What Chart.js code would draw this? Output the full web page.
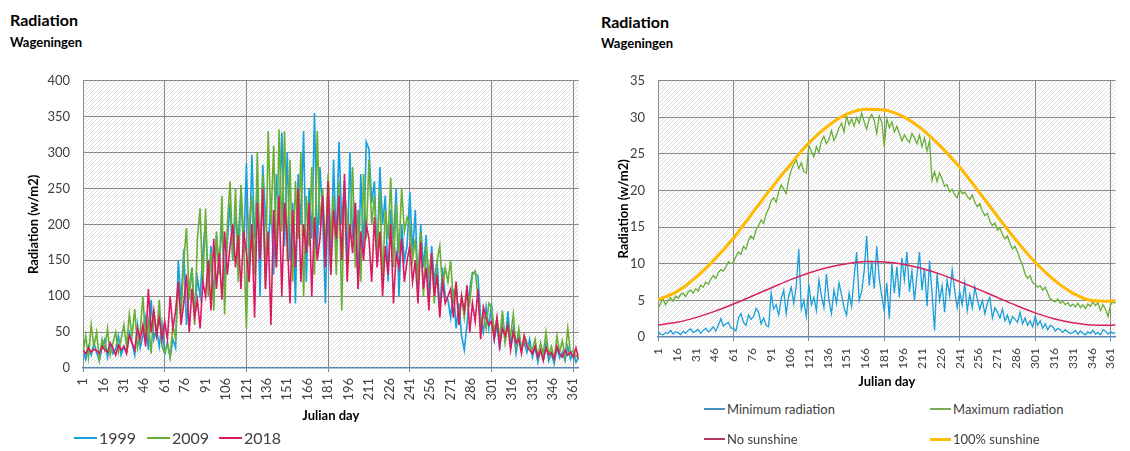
<!DOCTYPE html>
<html>
<head>
<meta charset="utf-8">
<script src="https://cdn.jsdelivr.net/npm/chart.js@4"></script>
<style>
  body { margin:0; width:1130px; height:451px; overflow:hidden; background:#fff; position:relative;
         font-family: Lato, 'Open Sans', sans-serif; color:#000; }
  .t1 { position:absolute; font-weight:bold; font-size:16px; line-height:18px; }
  .t2 { position:absolute; font-weight:bold; font-size:13px; line-height:16px; }
  canvas { position:absolute; }
  .leg { position:absolute; height:20px; line-height:20px; display:flex; align-items:center; color:#404040; white-space:nowrap; }
  .leg .ln { display:inline-block; margin-right:2px; }
</style>
</head>
<body>
<div class="t1" style="left:10px;top:11px">Radiation</div>
<div class="t2" style="left:10px;top:34px">Wageningen</div>
<div class="t1" style="left:601px;top:13px">Radiation</div>
<div class="t2" style="left:601px;top:35px">Wageningen</div>
<canvas id="left" width="595" height="370" style="left:0;top:60px"></canvas>
<canvas id="right" width="542" height="330" style="left:590px;top:60px"></canvas>
<div id="legends"></div>
<script>
// x tick labels (Julian day) and days of the noisy series (every 2nd day)
const tickDays = [1,16,31,46,61,76,91,106,121,136,151,166,181,196,211,226,241,256,271,286,301,316,331,346,361];
const smoothDays = [1,16,31,46,61,76,91,106,121,136,151,166,181,196,211,226,241,256,271,286,301,316,331,346,361,365];
const dailyDays = [];
for (let d = 1; d <= 365; d += 2) dailyDays.push(d);

// left chart: daily radiation per year (w/m2), days 1,3,...,365
const rad1999 = [
  25,12,30,18,35,22,10,28,40,15,33,20,26,45,18,
  30,22,50,35,18,60,28,45,70,25,95,40,55,30,62,
  20,35,15,40,28,150,90,165,60,110,140,75,125,100,160,
  205,110,170,95,185,140,200,120,175,230,150,210,180,245,160,
  285,140,297,180,250,100,283,210,160,240,130,270,200,328,170,
  300,150,230,90,270,200,330,120,250,180,355,160,280,210,90,
  240,130,290,170,315,200,260,140,300,180,230,110,270,160,315,
  305,230,260,150,280,200,240,120,220,180,250,100,200,150,170,
  245,160,220,110,200,140,185,90,170,120,150,80,140,100,95,
  70,110,55,90,45,25,60,110,133,132,128,70,50,85,55,
  90,40,60,25,75,35,79,30,55,20,45,28,35,22,40,
  15,30,8,25,12,35,10,20,6,28,14,22,10,30,12,
  20,8,15
];
const rad2009 = [
  20,45,15,60,30,50,12,40,25,55,18,35,50,22,40,
  60,30,75,45,82,28,50,100,35,65,20,80,45,95,30,
  20,35,15,60,40,120,70,150,195,95,140,60,180,222,110,
  222,100,160,80,190,130,240,75,200,260,150,250,120,255,180,
  55,200,240,130,300,150,270,110,330,200,310,140,332,190,330,
  150,290,120,260,180,300,100,240,170,280,130,330,200,250,160,
  270,180,240,130,260,80,250,210,180,280,140,220,120,270,180,
  290,200,240,150,250,120,220,180,265,140,230,160,250,190,210,
  200,150,180,120,190,100,170,130,160,90,150,170,110,140,120,
  150,90,120,60,100,70,110,90,130,135,100,60,75,55,90,
  85,50,70,40,80,35,60,45,75,30,55,25,45,35,30,
  25,40,15,35,20,50,18,30,12,45,22,38,15,55,20,
  25,15,20
];
const rad2018 = [
  25,20,28,22,26,24,20,30,25,22,35,28,18,32,25,
  30,20,45,35,25,55,40,60,30,110,50,80,45,70,40,
  65,40,100,55,80,120,60,90,130,50,110,70,95,55,120,
  100,150,80,180,110,160,95,190,130,170,200,140,185,110,190,
  160,120,200,70,230,150,250,110,190,60,220,140,240,100,230,
  180,90,220,140,250,120,200,160,230,100,210,150,180,240,140,
  260,130,220,180,240,150,270,120,200,160,230,110,190,150,200,
  180,120,210,140,190,100,170,130,200,90,160,140,180,120,150,
  170,120,150,90,175,110,140,80,160,100,130,70,120,90,100,
  110,70,120,60,100,80,115,50,90,65,110,40,85,70,60,
  65,40,70,30,55,45,60,25,50,35,40,20,45,30,25,
  20,30,15,25,10,28,18,22,12,30,20,15,25,18,22,
  15,28,12
];

// right chart: minimum / maximum radiation, days 1,3,...,365
const minRad = [
  0.8,0.4,0.3,0.6,0.5,0.9,0.4,0.7,0.6,0.3,0.8,0.5,0.9,1.1,0.6,
  0.8,1.0,0.5,0.9,1.2,0.7,1.0,1.4,0.8,1.6,2.5,1.5,1.8,2.0,1.2,
  1.2,0.8,2.6,3.2,2.0,1.6,3.0,2.4,2.8,3.9,3.4,1.8,2.6,1.6,1.4,
  6.0,3.8,4.4,3.0,5.2,6.4,3.2,5.6,6.8,4.6,7.0,12.0,3.8,5.0,2.8,
  7.2,4.4,5.4,3.6,7.8,5.6,4.0,8.6,5.0,3.2,6.4,4.6,7.4,5.8,4.0,
  3.0,6.0,4.2,8.2,11.6,5.0,6.2,9.0,13.8,7.0,10.4,6.6,12.4,8.0,5.6,
  3.6,7.4,2.5,10.0,6.0,9.6,5.4,10.8,7.8,11.6,6.2,9.0,5.0,8.4,11.6,
  6.4,9.4,4.2,10.4,6.0,0.9,8.6,5.0,7.0,3.4,7.8,5.6,9.2,6.4,4.0,
  6.2,4.4,7.4,3.6,5.8,4.0,6.8,5.2,3.8,5.0,3.2,4.6,5.4,2.6,4.0,
  3.4,2.6,3.8,2.2,3.0,1.8,2.8,2.4,2.0,3.4,1.8,2.6,1.6,2.2,1.4,
  2.8,1.6,2.2,1.2,1.8,1.0,1.6,1.4,0.8,1.2,1.0,0.6,1.0,0.7,0.5,
  0.6,0.9,0.4,0.8,0.5,0.3,0.7,0.5,0.9,0.4,0.6,0.3,1.0,0.8,0.4,
  0.7,0.5,0.6
];
const maxRad = [
  3.8,4.6,5.2,4.4,5.0,5.4,4.9,5.6,5.3,5.8,6.0,5.5,6.2,6.4,6.0,
  6.6,6.3,7.1,6.8,7.5,7.2,7.9,8.4,8.0,8.8,9.2,9.0,9.6,10.3,10.0,
  10.2,11.0,11.6,11.3,12.4,12.0,13.2,13.8,13.4,14.6,15.2,16.0,15.5,16.8,17.5,
  18.6,19.0,18.4,19.8,20.8,20.2,19.6,21.5,22.8,23.6,24.2,23.0,23.8,22.6,22.4,
  26.2,25.4,24.6,26.0,25.2,26.8,27.4,26.4,27.0,28.2,26.8,27.6,28.6,29.2,28.0,
  30.2,29.0,29.8,28.8,30.0,29.2,30.6,29.4,28.4,29.8,30.4,29.6,27.8,30.2,29.4,
  26.0,29.8,28.6,29.4,28.0,28.8,27.8,26.8,27.6,27.0,26.6,27.8,27.2,26.4,27.6,
  26.0,27.2,25.4,26.8,21.4,22.6,21.2,22.4,21.6,20.6,20.8,19.8,20.2,19.4,19.0,
  20.2,19.6,19.8,19.2,18.8,19.4,18.4,17.8,18.2,17.2,16.6,16.9,15.8,15.2,15.6,
  14.6,14.9,14.0,13.4,13.8,12.8,12.0,12.4,11.6,10.6,9.8,8.6,8.0,8.4,7.4,
  7.2,6.8,7.0,6.4,6.8,6.0,5.2,5.0,4.8,5.2,4.6,4.9,4.4,4.7,4.2,
  4.5,4.1,4.6,4.0,4.4,3.9,4.5,4.2,4.8,4.3,4.7,3.6,4.4,3.8,2.8,
  4.4,4.8,4.6
];
// smooth curves at smoothDays
const noSunshine = [1.65,2.0,2.65,3.5,4.5,5.6,6.7,7.8,8.75,9.5,10.0,10.3,10.25,9.95,9.35,8.55,7.55,6.5,5.4,4.3,3.3,2.5,1.95,1.65,1.62,1.65];
const fullSunshine = [5.1,6.2,8.1,10.6,13.5,16.9,20.3,23.5,26.5,28.8,30.4,31.1,31.0,30.1,28.4,26.0,23.2,19.9,16.5,13.2,10.2,7.8,6.0,5.0,4.9,5.0];

const leftNames = ['1999', '2009', '2018'];
const leftColors = ['#16a0dc', '#6aaf35', '#d81b60'];
const rightNames = ['Minimum radiation', 'Maximum radiation', 'No sunshine', '100% sunshine'];
const rightColors = ['#1a9fd8', '#6aae37', '#d8245e', '#ffb900'];
const rightLegendColors = ['#4b8fbf', '#78aa58', '#b03a62', '#ffc000'];

Chart.defaults.font.family = "Lato, 'Open Sans', sans-serif";
Chart.defaults.color = '#404040';

function pts(days, vals) {
  return days.map((d, i) => ({ x: d, y: vals[i] }));
}

// light diagonal hatch behind the plot area
const hatchBg = {
  id: 'hatchBg',
  beforeDraw(chart) {
    const a = chart.chartArea, ctx = chart.ctx;
    const c = document.createElement('canvas');
    c.width = 4; c.height = 4;
    const g = c.getContext('2d');
    g.fillStyle = '#fff';
    g.fillRect(0, 0, 4, 4);
    g.fillStyle = '#dcdcdc';
    for (let i = 0; i < 4; i++) g.fillRect(i, 3 - i, 1, 1);
    ctx.save();
    ctx.fillStyle = ctx.createPattern(c, 'repeat');
    ctx.fillRect(a.left, a.top, a.right - a.left, a.bottom - a.top);
    ctx.restore();
  }
};

const isMajor = (c) => c.tick && (c.tick.value - 1) % 60 === 0;

function scalesFor(o) {
  return {
    x: {
      type: 'linear', min: 1, max: 365,
      afterBuildTicks: (s) => { s.ticks = tickDays.map(v => ({ value: v })); },
      afterFit: (s) => { s.height = o.xHeight; },
      ticks: { autoSkip: false, minRotation: 90, maxRotation: 90, padding: o.xPad, font: { size: o.xFont } },
      grid: {
        color: (c) => isMajor(c) ? '#8a8a8a' : 'transparent',
        tickColor: (c) => isMajor(c) ? '#5b87b0' : 'transparent',
        tickLength: 4, lineWidth: 1
      },
      border: { color: '#5b87b0', width: 1.5, z: 1 },
      title: { display: true, text: 'Julian day', color: '#000', font: { size: o.titleFont, weight: 'bold' }, padding: { top: 0, bottom: o.titlePad } }
    },
    y: {
      min: 0, max: o.yMax,
      afterFit: (s) => { s.width = o.yWidth; },
      ticks: { stepSize: o.yStep, padding: 13, font: { size: 13 } },
      grid: { color: (c) => (c.tick && c.tick.value === 0) ? 'transparent' : '#8a8a8a', drawTicks: false, lineWidth: 1 },
      border: { display: false },
      title: { display: true, text: 'Radiation (w/m2)', color: '#000', font: { size: 13, weight: 'bold' }, padding: { top: 26, bottom: 0 } }
    }
  };
}

const common = {
  responsive: false,
  animation: false,
  plugins: { legend: { display: false }, tooltip: { enabled: false } },
  elements: { point: { radius: 0 } }
};

new Chart(document.getElementById('left'), {
  type: 'line',
  data: {
    datasets: [
      { label: leftNames[0], data: pts(dailyDays, rad1999), borderColor: leftColors[0], borderWidth: 1.6, tension: 0, order: 3 },
      { label: leftNames[1], data: pts(dailyDays, rad2009), borderColor: leftColors[1], borderWidth: 1.6, tension: 0, order: 2 },
      { label: leftNames[2], data: pts(dailyDays, rad2018), borderColor: leftColors[2], borderWidth: 1.6, tension: 0, order: 1 }
    ]
  },
  options: Object.assign({}, common, {
    layout: { padding: { left: 0, right: 15, top: 20, bottom: 0 } },
    scales: scalesFor({ xHeight: 62, xPad: 6, xFont: 13, titleFont: 13, titlePad: 6, yMax: 400, yStep: 50, yWidth: 83 })
  }),
  plugins: [hatchBg]
});

new Chart(document.getElementById('right'), {
  type: 'line',
  data: {
    datasets: [
      { label: rightNames[0], data: pts(dailyDays, minRad), borderColor: rightColors[0], borderWidth: 1.3, tension: 0, order: 4 },
      { label: rightNames[1], data: pts(dailyDays, maxRad), borderColor: rightColors[1], borderWidth: 1.3, tension: 0, order: 3 },
      { label: rightNames[2], data: pts(smoothDays, noSunshine), borderColor: rightColors[2], borderWidth: 1.5, cubicInterpolationMode: 'monotone', order: 2 },
      { label: rightNames[3], data: pts(smoothDays, fullSunshine), borderColor: rightColors[3], borderWidth: 3, cubicInterpolationMode: 'monotone', order: 1 }
    ]
  },
  options: Object.assign({}, common, {
    layout: { padding: { left: 0, right: 4, top: 14, bottom: 0 } },
    scales: scalesFor({ xHeight: 53, xPad: 7, xFont: 12, titleFont: 13, titlePad: 0, yMax: 35, yStep: 5, yWidth: 68 })
  }),
  plugins: [hatchBg]
});

// legends
const legendBox = document.getElementById('legends');
function addLegend(x, y, name, color, size, lineW, lineH) {
  const el = document.createElement('div');
  el.className = 'leg';
  el.style.left = x + 'px';
  el.style.top = (y - 10) + 'px';
  el.style.fontSize = size + 'px';
  el.innerHTML = '<span class="ln" style="width:' + lineW + 'px;height:' + lineH + 'px;background:' + color + '"></span>' + name;
  legendBox.appendChild(el);
}
[74, 147, 219].forEach((x, i) => addLegend(x, 438, leftNames[i], leftColors[i], 16, 23, 2));
[[704, 409], [930, 409], [704, 439], [930, 439]].forEach((p, i) =>
  addLegend(p[0], p[1], rightNames[i], rightLegendColors[i], 13, 21, i === 3 ? 3 : 2));
</script>
</body>
</html>
